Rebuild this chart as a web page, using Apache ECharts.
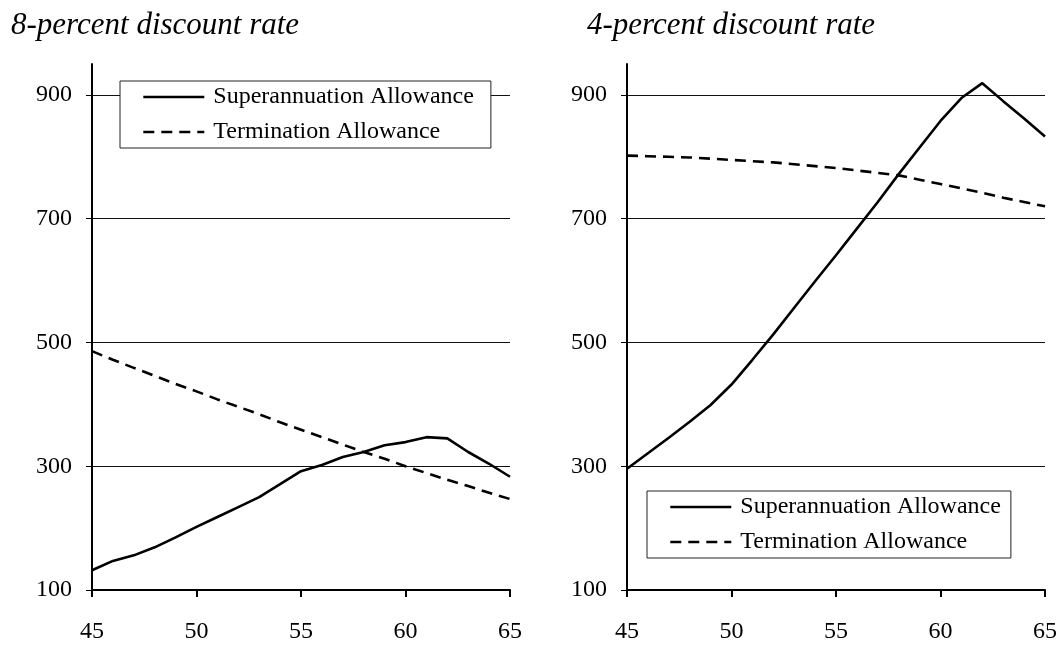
<!DOCTYPE html>
<html>
<head>
<meta charset="utf-8">
<title>Allowances by age</title>
<script src="https://cdn.jsdelivr.net/npm/echarts@6/dist/echarts.min.js"></script>
<style>
    html, body { margin: 0; padding: 0; background: #fff; }
    #main { width: 1061px; height: 645px; }
</style>
</head>
<body>
<div id="main"></div>
<script>
// ages on the x axis
var ages = [45, 46, 47, 48, 49, 50, 51, 52, 53, 54, 55, 56, 57, 58, 59, 60, 61, 62, 63, 64, 65];

// 8-percent discount rate
var super8 = [132, 147, 156, 169, 185, 202, 218, 234, 250, 271, 292, 302, 315, 323, 334, 339, 347, 345, 323, 304, 283];
var term8 = [486, 472, 459, 446, 433, 421, 408, 396, 384, 371, 359, 347, 335, 323, 312, 300, 289, 278, 268, 257, 247];

// 4-percent discount rate
var super4 = [296, 321, 346, 372, 399, 432, 472, 513, 556, 599, 641, 684, 727, 772, 815, 858, 895, 919, 890, 862, 833];
var term4 = [802, 801, 800, 799, 797, 795, 793, 791, 788, 785, 782, 778, 774, 770, 763, 756, 749, 742, 734, 727, 720];

var yTicks = [100, 300, 500, 700, 900];
var titles = ['8-percent discount rate', '4-percent discount rate'];
var seriesNames = ['Superannuation Allowance', 'Termination Allowance'];

var FONT = '"Liberation Serif", "Times New Roman", serif';

function pairs(vals) {
    return ages.map(function (a, i) { return [a, vals[i]]; });
}

function xAxisOf(idx) {
    return {
        type: 'value', gridIndex: idx, min: 45, max: 65, interval: 5,
        axisLine: { lineStyle: { color: '#000', width: 2 } },
        axisTick: { length: 7, lineStyle: { color: '#000', width: 2 } },
        axisLabel: { color: '#000', fontFamily: FONT, fontSize: 24, margin: 30 },
        splitLine: { show: false }
    };
}

function yAxisOf(idx) {
    return {
        type: 'value', gridIndex: idx, min: 100, max: 950, interval: 200,
        axisLine: { show: true, lineStyle: { color: '#000', width: 2 } },
        axisTick: { show: true, length: 6, customValues: yTicks, lineStyle: { color: '#000', width: 1 } },
        axisLabel: { color: '#000', fontFamily: FONT, fontSize: 24, margin: 20, customValues: yTicks },
        splitLine: { show: true, lineStyle: { color: '#111', width: 1 } }
    };
}

function lineSeries(name, vals, idx, dashed) {
    return {
        name: name, type: 'line', xAxisIndex: idx, yAxisIndex: idx,
        data: pairs(vals), symbol: 'none', silent: true,
        lineStyle: { color: '#000', width: 2.6, type: dashed ? [11, 7] : 'solid' },
        itemStyle: { color: '#000' },
        z: 3
    };
}

function legendOf(left, top, padRight) {
    return {
        data: seriesNames.map(function (n) { return { name: n }; }),
        orient: 'vertical', left: left, top: top,
        padding: [4, padRight, 4, 22],
        itemWidth: 61, itemHeight: 20, itemGap: 11,
        backgroundColor: '#fff', borderColor: '#222', borderWidth: 1,
        itemStyle: { opacity: 0, borderWidth: 0 },
        lineStyle: { width: 2.6 },
        textStyle: { color: '#000', fontFamily: FONT, fontSize: 24, padding: [0, 0, 0, 4] },
        selectedMode: false,
        z: 10
    };
}

var chart = echarts.init(document.getElementById('main'), null, { renderer: 'canvas' });

var titleStyle = { fontFamily: FONT, fontStyle: 'italic', fontWeight: 'normal', fontSize: 31, color: '#000' };

var option = {
    animation: false,
    backgroundColor: '#fff',
    title: [
        { text: titles[0], left: 6, top: 5, textStyle: titleStyle },
        { text: titles[1], left: 582, top: 5, textStyle: titleStyle }
    ],
    grid: [
        { left: 92, right: 551, top: 64, bottom: 55 },
        { left: 627, right: 16, top: 64, bottom: 55 }
    ],
    xAxis: [xAxisOf(0), xAxisOf(1)],
    yAxis: [yAxisOf(0), yAxisOf(1)],
    legend: [legendOf(120, 81, 17), legendOf(647, 491, 10)],
    series: [
        lineSeries(seriesNames[0], super8, 0, false),
        lineSeries(seriesNames[1], term8, 0, true),
        lineSeries(seriesNames[0], super4, 1, false),
        lineSeries(seriesNames[1], term4, 1, true)
    ]
};

chart.setOption(option);
</script>
</body>
</html>
